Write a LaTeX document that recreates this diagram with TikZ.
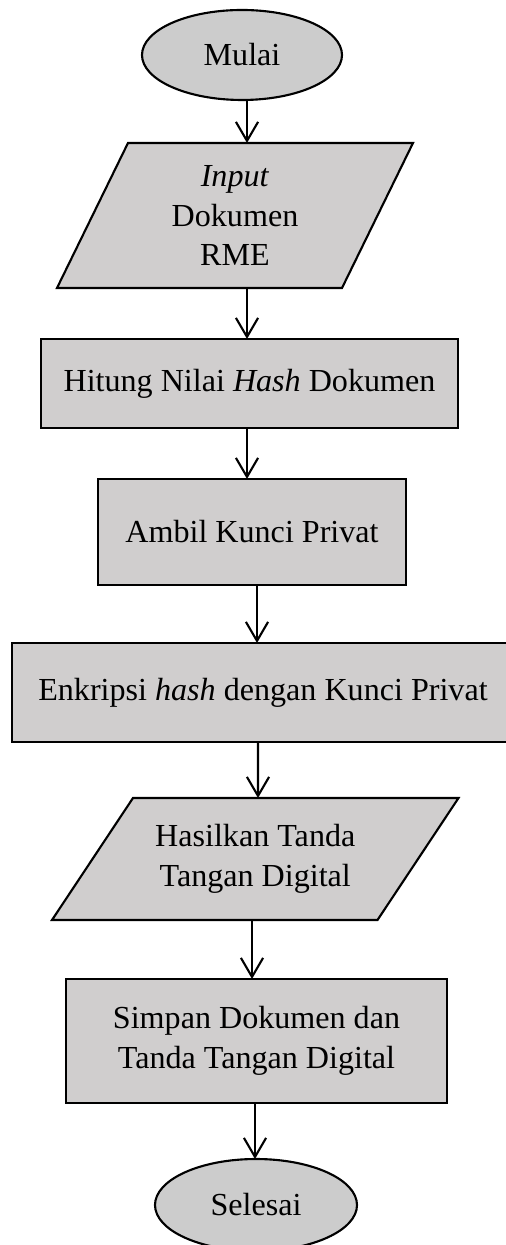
\documentclass[tikz,border=0pt]{standalone}
\usepackage{fontspec}
\setmainfont{Liberation Serif}
\usetikzlibrary{arrows.meta,calc,shapes.geometric}
\pgfdeclarelayer{background}
\pgfsetlayers{background,main}
\def\u{0.3785pt}
\definecolor{boxgray}{RGB}{208,206,206}
\definecolor{ovalgray}{RGB}{204,204,204}
\tikzset{
  base/.style={line width=0.8pt, inner sep=0pt, outer sep=0pt, align=center,
    font=\fontsize{12.15}{15}\selectfont},
  oval/.style={base, ellipse, draw, fill=ovalgray},
  procbox/.style={base, rectangle, draw, fill=boxgray},
  iobox/.style={base, rectangle, draw=none},
  ioshape/.style={line width=0.8pt, draw, fill=boxgray, line join=miter},
  arr/.style={line width=0.8pt, -{Straight Barb[length=7.2pt,width=8.4pt,line width=0.8pt]}}
}
\begin{document}
\begin{tikzpicture}[x=0.3785pt, y=-0.3785pt]
\useasboundingbox (0,0) rectangle (505,1245);

\node[oval, minimum width=200*\u, minimum height=90*\u] (m) at (242,55) {Mulai};

\node[iobox, minimum width=285*\u, minimum height=145*\u] (p1) at (235,215.5)
  {\textit{Input}\\Dokumen\\RME};

\node[procbox, minimum width=417*\u, minimum height=89*\u] (b1) at (249.5,383.5)
  {Hitung Nilai \textit{Hash} Dokumen};

\node[procbox, minimum width=308*\u, minimum height=106*\u] (b2) at (252,532)
  {Ambil Kunci Privat};

\node[procbox, minimum width=502*\u, minimum height=99*\u] (b3) at (263,692.5)
  {Enkripsi \textit{hash} dengan Kunci Privat};

\node[iobox, minimum width=325.5*\u, minimum height=122*\u] (p2) at (255.25,859)
  {Hasilkan Tanda\\Tangan Digital};

\node[procbox, minimum width=381*\u, minimum height=124*\u] (b4) at (256.5,1041)
  {Simpan Dokumen dan\\Tanda Tangan Digital};

\node[oval, minimum width=202*\u, minimum height=92*\u] (s) at (256,1205) {Selesai};

\begin{pgfonlayer}{background}
  \path[ioshape] ($(p1.north west)+(35.5,0)$) -- ($(p1.north east)+(35.5,0)$)
    -- ($(p1.south east)+(-35.5,0)$) -- ($(p1.south west)+(-35.5,0)$) -- cycle;
  \path[ioshape] ($(p2.north west)+(40.5,0)$) -- ($(p2.north east)+(40.5,0)$)
    -- ($(p2.south east)+(-40.5,0)$) -- ($(p2.south west)+(-40.5,0)$) -- cycle;
\end{pgfonlayer}

\draw[arr] ([xshift=5*\u]m.south) -- ([xshift=12*\u]p1.north);
\draw[arr] ([xshift=12*\u]p1.south) -- ([xshift=-2.5*\u]b1.north);
\draw[arr] ([xshift=-2.5*\u]b1.south) -- ([xshift=-5*\u]b2.north);
\draw[arr] ([xshift=5*\u]b2.south) -- ([xshift=-6*\u]b3.north);
\draw[arr] ([xshift=-5*\u]b3.south) -- ([xshift=2.75*\u]p2.north);
\draw[arr] ([xshift=-3.25*\u]p2.south) -- ([xshift=-4.5*\u]b4.north);
\draw[arr] ([xshift=-1.5*\u]b4.south) -- ([xshift=-1*\u]s.north);
\end{tikzpicture}
\end{document}
